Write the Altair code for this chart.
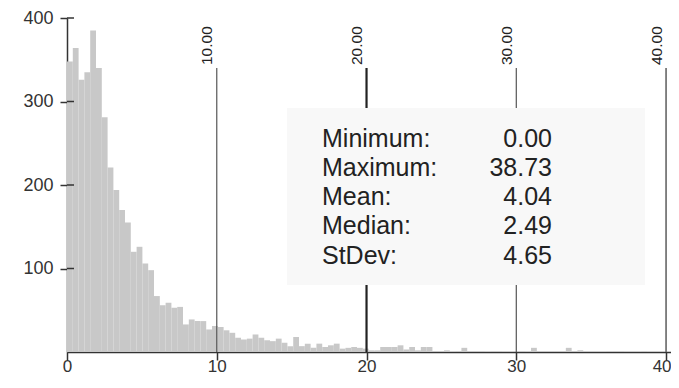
import altair as alt
import pandas as pd

# ---- data ----
counts = [348, 364, 326, 335, 385, 340, 281, 221, 194, 170,
          155, 120, 126, 106, 98, 67, 56, 59, 53, 54,
          33, 39, 37, 37, 27, 31, 30, 26, 23, 17,
          15, 16, 21, 17, 14, 13, 16, 11, 7, 18,
          7, 10, 5, 10, 6, 8, 10, 4, 5, 6,
          5, 4, 2, 2, 6, 6, 6, 8, 3, 6,
          2, 6, 6, 1, 1, 2, 0, 1, 5, 1,
          1, 1, 0, 1, 1, 0, 0, 1, 1, 0,
          5, 1, 1, 1, 1, 1, 5, 1, 2, 0,
          0, 0, 0, 1, 1, 1, 0, 0, 0, 1]
data_min = 0.0
data_max = 38.73
stat_names = ["Minimum:", "Maximum:", "Mean:", "Median:", "StDev:"]
stat_values = ["0.00", "38.73", "4.04", "2.49", "4.65"]
ref_lines_thin = [10, 30]
ref_lines_strong = [20]
ref_lines_edge = [40]
ref_values = [10, 20, 30, 40]
ref_labels = ["10.00", "20.00", "30.00", "40.00"]
x_ticks = [0, 10, 20, 30, 40]
y_ticks = [100, 200, 300, 400]

n_bins = len(counts)
bw = (data_max - data_min) / n_bins
hist = pd.DataFrame({
    "start": [data_min + i * bw for i in range(n_bins)],
    "end": [data_min + (i + 1) * bw for i in range(n_bins)],
    "count": counts,
})
stats = pd.DataFrame({"row": list(range(len(stat_names))), "name": stat_names, "value": stat_values})
refs = pd.DataFrame({"v": ref_values, "label": ref_labels})

W, H = 604, 334
FONT = "Liberation Sans"
xscale = alt.Scale(domain=[0, 40.33], nice=False, zero=False)
yscale = alt.Scale(domain=[0, 400], nice=False)
xaxis = alt.Axis(values=x_ticks, format="d", tickSize=8, labelPadding=11,
                 labelFontSize=17, labelFlush=False, labelBaseline="alphabetic",
                 labelAlign={"condition": {"test": "datum.value == 40", "value": "right"}, "value": "center"},
                 labelOffset={"condition": {"test": "datum.value == 40", "value": 5}, "value": 0},
                 title=None)
yaxis = alt.Axis(values=y_ticks, format="d", tickSize=7, labelPadding=7,
                 labelFontSize=18, labelBaseline="middle", title=None)

bars = alt.Chart(hist).mark_rect(color="#c8c8c8").encode(
    x=alt.X("start:Q", scale=xscale, axis=xaxis),
    x2="end:Q",
    y=alt.Y("count:Q", scale=yscale, axis=yaxis),
    y2=alt.datum(0),
)

inner_ticks = alt.Chart(pd.DataFrame({"v": y_ticks})).mark_rule(color="#333", strokeWidth=1.5).encode(
    y=alt.Y("v:Q", scale=yscale, axis=yaxis),
    x=alt.value(0), x2=alt.value(7),
)

def ref_rule(vals, color, width):
    return alt.Chart(pd.DataFrame({"v": vals})).mark_rule(color=color, strokeWidth=width).encode(
        x=alt.X("v:Q", scale=xscale, axis=xaxis),
        y=alt.value(50), y2=alt.value(H),
    )

rules_thin = ref_rule(ref_lines_thin, "#555", 1.2)
rules_strong = ref_rule(ref_lines_strong, "#222", 2.2)
rules_edge = ref_rule(ref_lines_edge, "#666", 1.6)

ref_text = alt.Chart(refs).mark_text(
    angle=270, align="left", baseline="alphabetic", fontSize=15.5, font=FONT,
    color="#222", dy=-4.5,
).encode(
    x=alt.X("v:Q", scale=xscale, axis=xaxis),
    y=alt.value(47),
    text="label:N",
)

box = alt.Chart(pd.DataFrame({"a": [0]})).mark_rect(color="#f8f8f8").encode(
    x=alt.value(220), x2=alt.value(578), y=alt.value(90), y2=alt.value(267),
)

names = alt.Chart(stats).transform_calculate(
    py="128.7 + datum.row * 29.2"
).mark_text(
    align="left", baseline="alphabetic", fontSize=25, font=FONT, color="#222",
).encode(
    x=alt.value(255),
    y=alt.Y("py:Q", scale=None),
    text="name:N",
)
vals = alt.Chart(stats).transform_calculate(
    py="128.7 + datum.row * 29.2"
).mark_text(
    align="right", baseline="alphabetic", fontSize=25, font=FONT, color="#222",
).encode(
    x=alt.value(485),
    y=alt.Y("py:Q", scale=None),
    text="value:N",
)

chart = alt.layer(
    bars, inner_ticks, rules_thin, rules_edge, rules_strong, box, ref_text, names, vals
).properties(
    width=W, height=H,
    autosize=alt.AutoSizeParams(type="none"),
    padding={"left": 59, "top": 10, "right": 0, "bottom": 24},
    background="white",
).configure_view(stroke=None).configure_axis(
    grid=False, domainColor="#333", domainWidth=1.5, tickColor="#333", tickWidth=1.5,
    labelFont=FONT, labelColor="#333",
)

chart.save("out.html", embed_options={"renderer": "svg", "actions": False})
